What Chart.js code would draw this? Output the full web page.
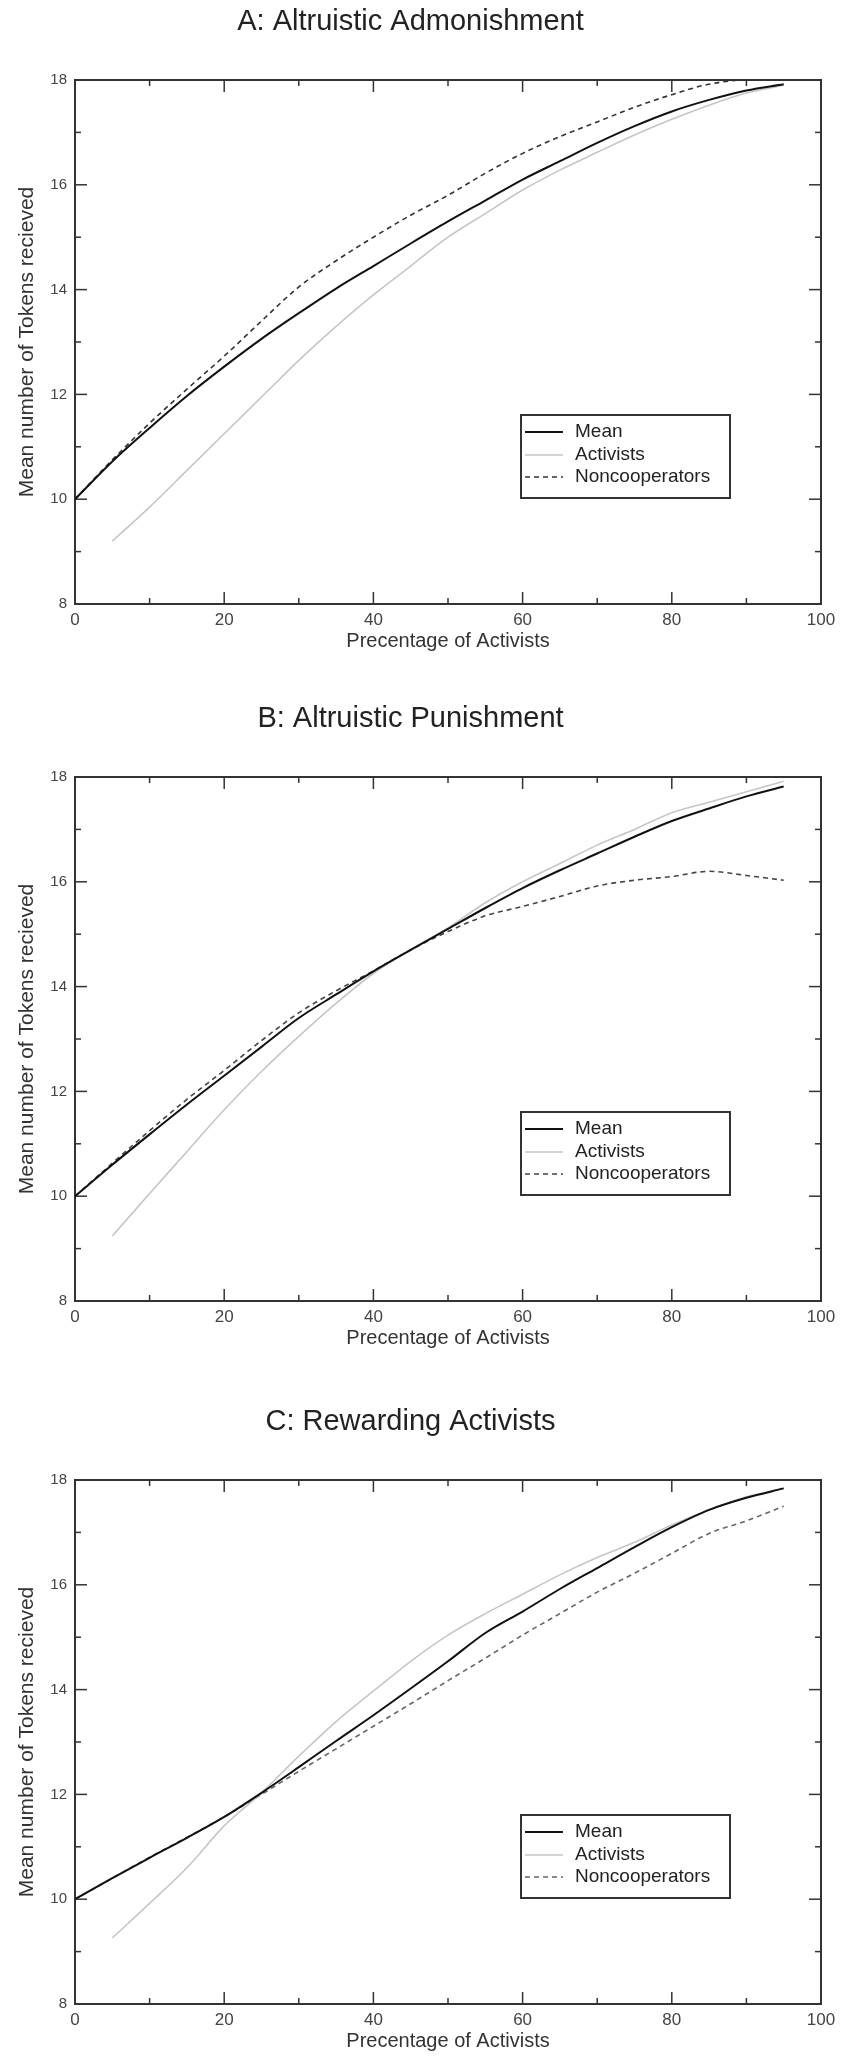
<!DOCTYPE html>
<html><head><meta charset="utf-8">
<script src="https://cdn.jsdelivr.net/npm/chart.js@4.4.1/dist/chart.umd.min.js"></script>
<style>
html,body{margin:0;padding:0;background:#fff;width:842px;height:2058px;overflow:hidden;}
.panel{position:absolute;left:0;width:842px;height:661px;}
</style></head><body>
<div class="panel" style="top:0px"><canvas id="cA" width="842" height="661"></canvas></div>
<div class="panel" style="top:697px"><canvas id="cB" width="842" height="661"></canvas></div>
<div class="panel" style="top:1400px"><canvas id="cC" width="842" height="661"></canvas></div>
<script>
// ---- data ----
const xPercent = [0,5,10,15,20,25,30,35,40,45,50,55,60,65,70,75,80,85,90,95];
const xTickValues = [0,20,40,60,80,100];
const yTickValues = [8,10,12,14,16,18];
const seriesLabels = ['Mean','Activists','Noncooperators'];
const panelTitles = ['A: Altruistic Admonishment','B: Altruistic Punishment','C: Rewarding Activists'];
const xAxisTitle = 'Precentage of Activists';
const yAxisTitle = 'Mean number of Tokens recieved';

const admonMean       = [10,10.72,11.36,11.97,12.53,13.06,13.55,14.02,14.45,14.88,15.3,15.7,16.1,16.45,16.8,17.12,17.4,17.62,17.8,17.92];
const admonActivists  = [null,9.2,9.85,10.55,11.25,11.95,12.65,13.3,13.9,14.45,15.0,15.45,15.9,16.28,16.62,16.95,17.25,17.52,17.75,17.9];
const admonNoncoop    = [10,10.75,11.45,12.1,12.73,13.4,14.05,14.55,15.0,15.42,15.8,16.22,16.6,16.92,17.2,17.48,17.72,17.92,18.0,18.0];

const punMean         = [10,10.6,11.18,11.75,12.3,12.85,13.4,13.85,14.29,14.7,15.1,15.5,15.88,16.22,16.54,16.86,17.16,17.4,17.63,17.82];
const punActivists    = [null,9.24,10.05,10.85,11.65,12.38,13.05,13.68,14.25,14.7,15.12,15.6,16.0,16.35,16.7,17.0,17.32,17.52,17.72,17.92];
const punNoncoop      = [10,10.63,11.25,11.85,12.4,12.97,13.5,13.92,14.3,14.7,15.05,15.35,15.53,15.72,15.92,16.03,16.1,16.2,16.12,16.03];

const rewMean         = [10,10.4,10.79,11.17,11.57,12.03,12.52,13.02,13.51,14.02,14.54,15.08,15.49,15.92,16.32,16.72,17.1,17.43,17.66,17.84];
const rewActivists    = [null,9.26,9.92,10.6,11.4,12.03,12.73,13.39,13.97,14.54,15.04,15.45,15.82,16.19,16.52,16.81,17.14,17.43,17.68,17.84];
const rewNoncoop      = [10,10.4,10.8,11.18,11.57,12.0,12.44,12.87,13.3,13.73,14.17,14.6,15.04,15.45,15.86,16.22,16.6,16.98,17.22,17.5];

// ---- styling ----
const FAMILY = "'Liberation Sans', Arial, Helvetica, sans-serif";

const framePlugin = {
  id: 'frame',
  beforeDatasetsDraw(chart) {
    const {ctx, chartArea: a, scales: {x, y}} = chart;
    ctx.save();
    ctx.strokeStyle = '#333';
    ctx.lineWidth = 1.5;
    const seg = (x1,y1,x2,y2) => { ctx.beginPath(); ctx.moveTo(x1,y1); ctx.lineTo(x2,y2); ctx.stroke(); };
    for (let v = x.min; v <= x.max; v += 10) {
      const px = x.getPixelForValue(v);
      const len = (v % 20 === 0) ? 12 : 6;
      seg(px, a.bottom, px, a.bottom - len);
      seg(px, a.top, px, a.top + len);
    }
    for (let v = y.min; v <= y.max; v += 1) {
      const py = y.getPixelForValue(v);
      const len = (v % 2 === 0) ? 12 : 6;
      seg(a.left, py, a.left + len, py);
      seg(a.right, py, a.right - len, py);
    }
    ctx.lineWidth = 2;
    ctx.strokeRect(a.left, a.top, a.right - a.left, a.bottom - a.top);
    ctx.restore();
  },
  afterDatasetsDraw(chart) {
    const {ctx, chartArea: a} = chart;
    const bx = a.left + 446, by = a.top + 335, bw = 209, bh = 83;
    ctx.save();
    ctx.fillStyle = '#fff';
    ctx.fillRect(bx, by, bw, bh);
    ctx.strokeStyle = '#333';
    ctx.lineWidth = 2;
    ctx.strokeRect(bx, by, bw, bh);
    const rows = [17, 40, 62];
    chart.data.datasets.forEach((ds, i) => {
      const ry = by + rows[i];
      ctx.save();
      ctx.strokeStyle = ds.borderColor;
      ctx.lineWidth = ds.borderWidth;
      ctx.setLineDash(ds.borderDash || []);
      ctx.beginPath(); ctx.moveTo(bx + 4, ry); ctx.lineTo(bx + 42, ry); ctx.stroke();
      ctx.restore();
      ctx.fillStyle = '#222';
      ctx.font = '19px ' + FAMILY;
      ctx.textBaseline = 'middle';
      ctx.textAlign = 'left';
      ctx.fillText(ds.label, bx + 54, ry);
    });
    ctx.restore();
  }
};

function pts(arr) { return xPercent.map((x, i) => ({x: x, y: arr[i]})); }

function makeChart(id, title, mean, act, non, nonColor) {
  return new Chart(document.getElementById(id), {
    type: 'line',
    data: {
      datasets: [
        {label: seriesLabels[0], data: pts(mean), borderColor: '#111', borderWidth: 2},
        {label: seriesLabels[1], data: pts(act), borderColor: '#c6c6c6', borderWidth: 1.6},
        {label: seriesLabels[2], data: pts(non), borderColor: nonColor, borderWidth: 1.6, borderDash: [5, 4]}
      ]
    },
    options: {
      responsive: false,
      animation: false,
      devicePixelRatio: 1,
      elements: {point: {radius: 0}, line: {cubicInterpolationMode: 'monotone', fill: false}},
      layout: {padding: {left: 0, right: 21, top: 0, bottom: 0}},
      plugins: {
        legend: {display: false},
        tooltip: {enabled: false},
        title: {display: true, text: title, color: '#222',
                font: {size: 29, family: FAMILY, weight: 'normal'},
                padding: {top: 5, bottom: 40.2}}
      },
      scales: {
        x: {
          type: 'linear', min: 0, max: 100,
          grid: {display: false, drawTicks: false},
          border: {display: false},
          afterBuildTicks(s) { s.ticks = xTickValues.map(v => ({value: v})); },
          ticks: {font: {size: 17, family: FAMILY}, color: '#444', padding: 6, maxRotation: 0, autoSkip: false},
          title: {display: true, text: xAxisTitle, color: '#333', font: {size: 20, family: FAMILY}, padding: {top: 0, bottom: 8}},
          afterFit(s) { s.height = 57; }
        },
        y: {
          type: 'linear', min: 8, max: 18,
          grid: {display: false, drawTicks: false},
          border: {display: false},
          afterBuildTicks(s) { s.ticks = yTickValues.map(v => ({value: v})); },
          ticks: {font: {size: 15, family: FAMILY}, color: '#444', padding: 8},
          title: {display: true, text: yAxisTitle, color: '#333', font: {size: 21, family: FAMILY}, padding: {top: 15, bottom: 0}},
          afterFit(s) { s.width = 75; }
        }
      }
    },
    plugins: [framePlugin]
  });
}

makeChart('cA', panelTitles[0], admonMean, admonActivists, admonNoncoop, '#333');
makeChart('cB', panelTitles[1], punMean, punActivists, punNoncoop, '#444');
makeChart('cC', panelTitles[2], rewMean, rewActivists, rewNoncoop, '#666');
</script>
</body></html>
